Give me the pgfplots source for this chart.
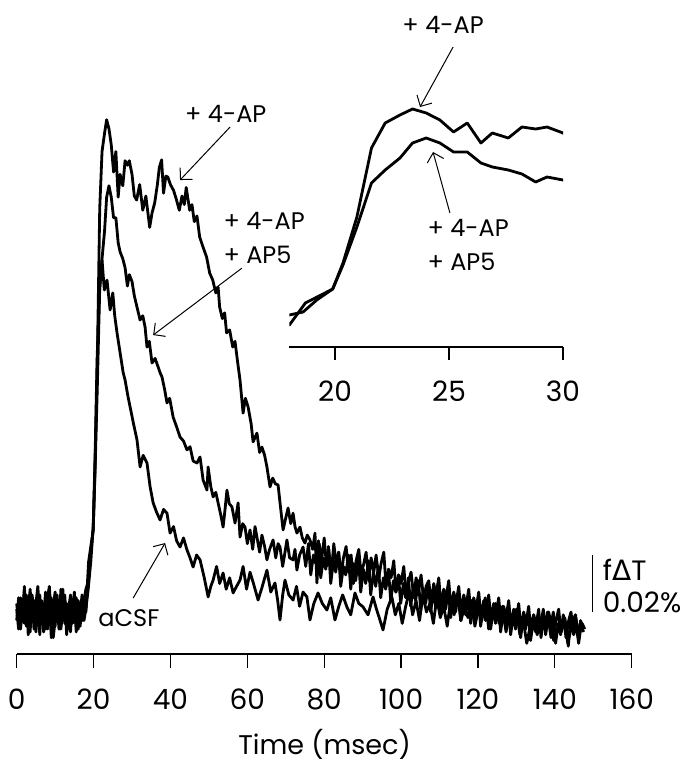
\documentclass[border=0pt]{standalone}
\usepackage{pgfplots}
\pgfplotsset{compat=1.18}
\usepackage{pgfplotstable}
\usetikzlibrary{arrows.meta}
\usepackage{fontspec}
\setmainfont{Poppins}
\newfontfamily\dvfont{DejaVu Sans}

% 4-AP
\pgfplotstableread{
t v
0 3
0.5 -4
1 5
1.5 -2
2 7
2.5 -5
3 1
3.5 8
4 -3
4.5 4
5 -7
5.5 2
6 6
6.5 -4
7 3
7.5 -6
8 5
8.5 9
9 -2
9.5 4
10 -5
10.5 6
11 -3
11.5 2
12 8
12.5 -4
13 3
13.5 -6
14 5
14.5 1
15 7
15.5 -3
16 4
16.5 -1
17 6
17.5 2
18 0
18.7 17.6
19.9 28.8
20.35 49.6
20.96 86.4
21.6 141.6
22.2 161.6
22.85 168
23.4 172.8
24.0 169.6
24.6 164
25.2 154.4
25.8 161.6
26.4 145.6
26.9 153.6
27.6 149.6
28.2 158.4
28.8 156.8
29.3 158.4
30.0 153.6
30.6 146
31.2 144.6
32 150
32.8 141
33.6 146
34.6 135
35.2 140
35.9 143.6
36.6 150
37.1 156
37.7 158.7
38.2 147
38.8 153
39.3 152.7
40 150
40.8 148
41.5 145
42.3 141
43 146
43.6 143
44.1 149
45 141
45.6 143
46.2 137
46.9 139
47.6 131.6
48.5 128
49.4 124.6
50.2 119
51 116.5
51.8 112
52.4 114
52.8 107
53.5 103
54.1 105
54.6 98
55.4 99
56.2 93
56.8 95
57.4 88.5
58.1 81.4
58.9 69.8
59.5 75
60.2 72
61 66
61.5 59.7
62.5 62.8
63.2 56
63.8 57.9
64.5 55
65.1 50.9
65.9 43.9
66.6 47
67.3 45
68 44.6
68.7 36
69.3 28.8
70 33
70.6 36.5
71.3 31
71.9 34.7
72.4 30
72.9 27.7
73.7 29.8
74.3 26
75 24.2
75.6 27
76.3 25.3
77 22
77.6 27.7
78.1 10.2
78.7 24
79.3 18
80 26
80.6 16
81.2 22
81.8 13
82.5 24
83.1 17
83.8 21
84.4 12
85 19
85.7 23
86.3 14
87 20
87.6 10
88.3 18
89 22
89.6 13
90.3 17
90.9 21
91.6 11
92.2 19
92.9 14
93.5 20
94.2 12
94.8 17
95.5 21
96.1 9
96.8 15
97.4 12
98.1 18
98.7 7
99.4 13
100 10
100.7 16
101.3 6
102 11
102.6 14
103.3 5
103.9 12
104.6 8
105.2 13
105.9 4
106.5 9
107.2 11
107.8 3
108.5 10
109.1 6
109.8 12
110.4 2
111.1 8
111.7 5
112.4 11
113 1
113.7 7
114.3 3
115 9
115.6 0
116.3 6
116.9 2
117.6 8
118.2 -1
118.9 5
119.5 1
120.2 7
120.8 -2
121.5 4
122.1 0
122.8 6
123.4 -3
124.1 3
124.7 -1
125.4 5
126 -4
126.7 2
127.3 -2
128 4
128.6 -5
129.3 1
129.9 -3
130.6 3
131.2 -6
131.9 0
132.5 -4
133.2 2
133.8 -8
134.5 -1
135.1 -5
135.8 1
136.4 -9
137.1 -2
137.7 -6
138.4 0
139 -4
139.7 -10
140.3 -3
141 1
141.6 -7
142.3 -2
142.9 -9
143.6 -3
144.2 0
144.9 -8
145.5 -4
146.2 -11
146.8 -5
147.5 -7
}\traceA

% 4-AP + AP5
\pgfplotstableread{
t v
0 -3
0.5 5
1 -6
1.5 2
2 -4
2.5 6
3 -8
3.5 -1
4 5
4.5 -6
5 3
5.5 9
6 -2
6.5 4
7 -7
7.5 1
8 -4
8.5 3
9 -9
9.5 2
10 7
10.5 -1
11 4
11.5 -6
12 1
12.5 6
13 -5
13.5 2
14 -7
14.5 4
15 -2
15.5 5
16 -6
16.5 1
17 -3
17.5 4
18 8
18.6 10.4
19.2 20
19.9 28.8
20.35 48
20.96 78.4
21.6 113.6
22.2 124
22.85 133.6
23.4 145.6
24.0 149.6
24.6 145.6
25.2 138.4
25.8 138.4
26.4 129.6
26.9 126.4
27.6 124
28.2 120.8
28.8 114.4
29.3 118.4
30.0 116
30.6 111
31.3 107
32.1 102.5
32.8 104
33.4 100
33.9 93
34.5 95
35.2 87.4
36 89
36.8 86
37.3 84
37.8 82.5
38.5 78
39.1 73.4
39.8 75
40.7 68.4
41.6 65
42.5 61.4
43.4 60
44.3 56.9
45.1 58
45.9 53
46.9 52.3
47.7 54.4
48.5 46.3
49.5 42.8
49.8 50.9
50.5 44
51.1 40.4
51.8 42
52.4 38.3
53.1 34
53.7 29.8
54.2 36
54.7 42.8
55.3 38
56 36.9
56.8 31.2
57.6 38.3
58.1 26.3
58.8 31
59.4 29.8
60 24
60.7 28.8
61.4 22
62 30
62.5 26.3
63.2 21
63.8 27
64.5 23
65.1 18.3
65.8 22
66.7 25.3
67.4 19
68 24
68.5 22.8
69.2 16
69.8 21
70.3 25.3
71 19
71.9 18.3
72.4 22
72.9 14.7
73.6 20
74.5 22.8
75.2 16
75.9 24
76.5 13
77.2 20
77.8 17
78.5 25
79.1 12
79.8 19
80.4 15
81.1 23
81.7 10
82.4 18
83 14
83.7 21
84.3 9
85 16
85.6 13
86.3 20
86.9 8
87.6 17
88.2 11
88.9 19
89.5 7
90.2 15
90.8 10
91.5 18
92.1 6
92.8 14
93.4 9
94.1 16
94.7 5
95.4 12
96 8
96.7 15
97.3 4
98 11
98.6 7
99.3 13
99.9 3
100.6 10
101.2 5
101.9 12
102.5 2
103.2 9
103.8 4
104.5 11
105.1 1
105.8 8
106.4 3
107.1 10
107.7 0
108.4 7
109 2
109.7 9
110.3 -1
111 6
111.6 1
112.3 8
112.9 -2
113.6 5
114.2 0
114.9 7
115.5 -3
116.2 4
116.8 -1
117.5 6
118.1 -4
118.8 3
119.4 -2
120.1 5
120.7 -5
121.4 2
122 -3
122.7 4
123.3 -6
124 1
124.6 -4
125.3 3
125.9 -7
126.6 0
127.2 -5
127.9 2
128.5 -8
129.2 -1
129.8 -6
130.5 1
131.1 -9
131.8 -2
132.4 -6
133.1 0
133.7 -10
134.4 -3
135 -7
135.7 -1
136.3 -5
137 1
137.6 -8
138.3 -2
138.9 -6
139.6 0
140.2 -11
140.9 -4
141.5 -8
142.2 -1
142.8 -6
143.5 -12
144.1 -3
144.8 -7
145.4 -1
146.1 -9
146.7 -3
147.4 -6
}\traceB

% aCSF
\pgfplotstableread{
t v
0 1
0.5 -6
1 4
1.5 -2
2 9
2.5 -4
3 2
3.5 -7
4 6
4.5 0
5 -5
5.5 5
6 -8
6.5 3
7 -2
7.5 7
8 -6
8.5 -1
9 5
9.5 -9
10 -3
10.5 3
11 -6
11.5 8
12 -2
12.5 4
13 -8
13.5 1
14 6
14.5 -4
15 2
15.5 -7
16 3
16.5 -5
17 2
17.5 -3
18 1
18.6 8
19.3 18
19.9 30
20.4 55
20.9 88
21.5 112
22.2 123.6
22.8 113
23.5 116.5
24.3 106
25 112
25.5 104
26.1 98
26.9 91
27.7 84
28.2 81.4
28.9 76
29.5 72
30.4 66
31.3 60.4
32.1 50.9
32.9 55
33.9 52.3
34.7 44
35.5 38.3
36.4 35
37.3 32.3
38.2 36
39.1 34.7
39.9 27.7
40.8 30
41.6 25
42.5 22.8
43.4 26
44.3 21.8
45.1 19
45.9 15.8
46.8 20
47.7 18.3
48.8 12
49.8 5.3
50.5 9
51.1 11.2
52 16
52.8 10
53.7 13.7
54.5 8
55.4 12
56.3 6.7
57.2 9
58.1 11.2
58.9 16
59.8 8
60.7 14
61.6 10
62.8 4.2
63.9 9
65.1 14.7
66.1 7
67.2 10.2
67.9 4
68.5 -2.8
69.2 6
69.8 11.2
70.8 6
71.9 4.2
72.8 9
73.6 2
74.5 7
75.5 5.3
76.3 -2.8
77.3 3
78.4 6.7
79.5 3
80.7 0.7
81.7 5
82.8 -2.8
83.8 2
84.8 6
85.9 1.8
86.9 -1
88 6.7
89 3
90.1 1.8
91.4 -1
92.7 5.3
93.6 1
94.5 -2.8
95.3 -6.3
96.4 1
97.6 5.3
98.5 -1
99.4 3
100.3 -4
101.2 2
102.1 7
103 -1
103.9 4
104.8 -3
105.7 6
106.6 0
107.5 3
108.4 -4
109.3 5
110.2 -2
111.1 2
112 -5
112.9 4
113.8 -1
114.7 6
115.6 -3
116.5 2
117.4 -2
118.3 4
119.2 -5
120.1 1
121 -3
121.9 5
122.8 -6
123.7 0
124.6 3
125.5 -4
126.4 2
127.3 -7
128.2 -1
129.1 -4
130 1
130.9 -8
131.8 -3
132.7 -11
133.6 -5
134.5 -1
135.4 -8
136.3 -3
137.2 -6
138.1 0
139 -9
139.9 -4
140.8 -1
141.7 -7
142.6 -2
143.5 -10
144.4 -5
145.3 -1
146.2 -8
147.1 -4
147.8 -6
}\traceC

\tikzset{annot/.style={font=\fontsize{12}{14}\selectfont, inner sep=0pt},
  arr/.style={line width=0.5pt, -{Straight Barb[length=4.2pt,width=8.5pt,line width=0.5pt]}}}
\pgfplotsset{trace/.style={no markers, black, line width=1.4pt, line join=round}}

\begin{document}
\begin{tikzpicture}
\path[use as bounding box] (-8.35pt,-53.5pt) rectangle (331.65pt,327pt);
\begin{axis}[
  at={(0pt,0pt)}, anchor=south west,
  scale only axis, width=307.5pt, height=327pt,
  xmin=0, xmax=160, ymin=-14.74, ymax=214.8,
  axis x line=bottom, axis y line=none,
  x axis line style={-, line width=0.65pt},
  xtick={0,20,...,160},
  tick align=outside, major tick length=7pt,
  xtick style={line width=0.65pt, black},
  xticklabel style={font=\fontsize{14}{16}\selectfont, yshift=-7pt},
  /pgf/number format/assume math mode=true,
  clip=false,
]
\addplot[trace] table[x=t,y=v] {\traceC};
\addplot[trace] table[x=t,y=v] {\traceB};
\addplot[trace] table[x=t,y=v] {\traceA};
% annotations
\node[annot] at (axis cs:54.4,174.8) {+ 4-AP};
\draw[arr] (axis cs:55.5,170.2) -- (axis cs:42.5,151.6);
\node[annot, anchor=west] at (axis cs:53.7,137.2) {+ 4-AP};
\node[annot, anchor=west] at (axis cs:53.7,125.3) {+ AP5};
\draw[arr] (axis cs:58.6,120.7) -- (axis cs:35.5,97.2);
\node[annot] at (axis cs:29.2,-2.1) {aCSF};
\draw[arr] (axis cs:30.3,4.9) -- (axis cs:38.6,24.2);
% scale bar
\draw[line width=0.6pt] (axis cs:149.9,0) -- (axis cs:149.9,20);
\node[annot, anchor=west, font=\fontsize{14}{16}\selectfont] at (axis cs:152.4,14.7) {f{\dvfont Δ}T};
\node[annot, anchor=west, font=\fontsize{14}{16}\selectfont] at (axis cs:152.4,3.5) {0.02\%};
\node[font=\fontsize{13.5}{16}\selectfont, inner sep=0pt] at (axis cs:80.1,-46.3) {Time (msec)};
\end{axis}
\begin{axis}[
  at={(136.35pt,153.5pt)}, anchor=south west,
  scale only axis, width=136.8pt, height=123.5pt,
  xmin=18, xmax=30, ymin=-17.6, ymax=180,
  axis x line=bottom, axis y line=none,
  x axis line style={-, line width=0.65pt},
  xtick={20,25,30},
  tick align=outside, major tick length=6.5pt,
  xtick style={line width=0.65pt, black},
  xticklabel style={font=\fontsize{14}{16}\selectfont, yshift=-7pt},
  /pgf/number format/assume math mode=true,
  clip=true,
]
\addplot[trace] table[x=t,y=v] {\traceB};
\addplot[trace] table[x=t,y=v] {\traceA};
\end{axis}
\begin{axis}[
  at={(136.35pt,153.5pt)}, anchor=south west,
  scale only axis, width=136.8pt, height=123.5pt,
  xmin=18, xmax=30, ymin=-17.6, ymax=180,
  hide axis, clip=false,
]
\node[annot] at (axis cs:24.74,240) {+ 4-AP};
\draw[arr] (axis cs:25.18,222.4) -- (axis cs:23.73,174.4);
\node[annot, anchor=west] at (axis cs:24.04,77.6) {+ 4-AP};
\node[annot, anchor=west] at (axis cs:24.04,50.4) {+ AP5};
\draw[arr] (axis cs:25.04,89.6) -- (axis cs:24.3,138.4);
\end{axis}
\end{tikzpicture}
\end{document}
